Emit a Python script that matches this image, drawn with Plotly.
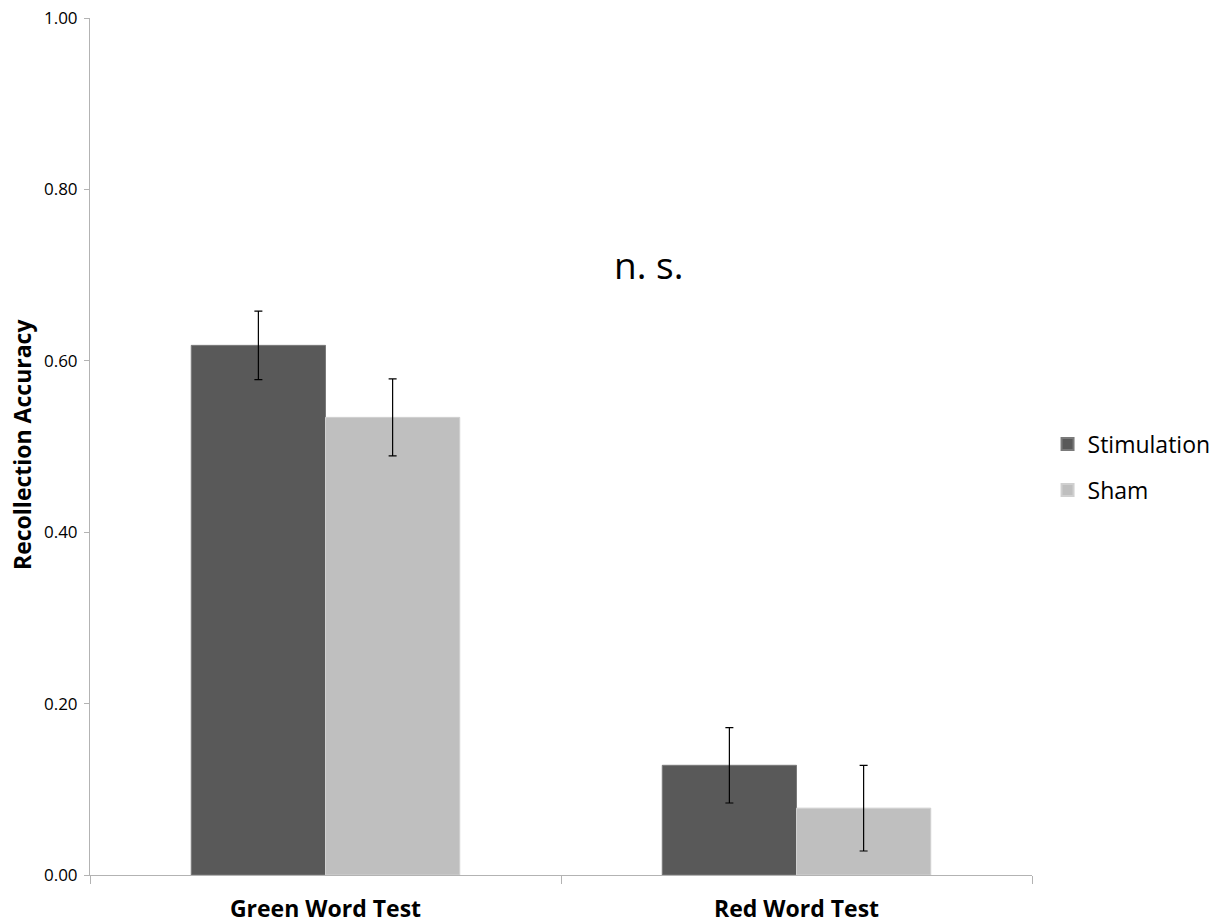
import plotly.graph_objects as go

categories = ["Green Word Test", "Red Word Test"]
stimulation = [0.618, 0.128]
stimulation_err = [0.040, 0.044]
sham = [0.534, 0.078]
sham_err = [0.045, 0.050]
y_ticks = [0.0, 0.2, 0.4, 0.6, 0.8, 1.0]
y_tick_labels = ["0.00", "0.20", "0.40", "0.60", "0.80", "1.00"]

FONT = "Open Sans"
AXIS_GREY = "#b3b3b3"

fig = go.Figure()
fig.add_trace(go.Bar(
    name="Stimulation", x=categories, y=stimulation, legendgroup="a",
    marker=dict(color="#595959", line=dict(color="#7a7a7a", width=1)),
    error_y=dict(type="data", array=stimulation_err, color="black",
                 thickness=1.2, width=4),
))
fig.add_trace(go.Bar(
    name="Sham", x=categories, y=sham, legendgroup="b",
    marker=dict(color="#bfbfbf", line=dict(color="#d0d0d0", width=1)),
    error_y=dict(type="data", array=sham_err, color="black",
                 thickness=1.2, width=4),
))

fig.update_layout(
    width=1225, height=924,
    margin=dict(l=90, r=193, t=18, b=49, autoexpand=False),
    paper_bgcolor="white", plot_bgcolor="white",
    barmode="group", bargap=0.43, bargroupgap=0,
    font=dict(family=FONT, color="black"),
    showlegend=True,
    legend=dict(x=1.0165, y=0.476, xanchor="left", yanchor="middle",
                font=dict(size=23, family=FONT), itemsizing="constant",
                traceorder="grouped", tracegroupgap=13,
                bgcolor="rgba(0,0,0,0)"),
)
fig.update_xaxes(
    showline=True, linecolor=AXIS_GREY, linewidth=1, automargin=False,
    ticks="outside", tickson="boundaries", ticklen=8, tickcolor=AXIS_GREY,
    tickfont=dict(size=23, family=FONT),
    tickvals=categories, ticktext=["<b>" + c + "</b>" for c in categories],
    ticklabelstandoff=13, showgrid=False,
)
fig.update_yaxes(
    range=[0, 1], tickvals=y_ticks, ticktext=y_tick_labels, automargin=False,
    showline=True, linecolor=AXIS_GREY, linewidth=1,
    ticks="outside", ticklen=5, tickcolor=AXIS_GREY, ticklabelstandoff=3,
    tickfont=dict(size=17, family=FONT), showgrid=False, zeroline=False,
)

fig.add_annotation(
    text="<b>Recollection Accuracy</b>", textangle=-90,
    xref="paper", yref="paper", x=(22 - 90) / 942, y=(875 - 445) / 857,
    xanchor="center", yanchor="middle",
    showarrow=False, font=dict(size=23, family=FONT),
)
fig.add_annotation(
    text="n. s.", xref="paper", yref="paper",
    x=(648 - 90) / 942, y=(875 - 237) / 857,
    showarrow=False, font=dict(size=37, family=FONT),
)

fig.write_html("out.html")
